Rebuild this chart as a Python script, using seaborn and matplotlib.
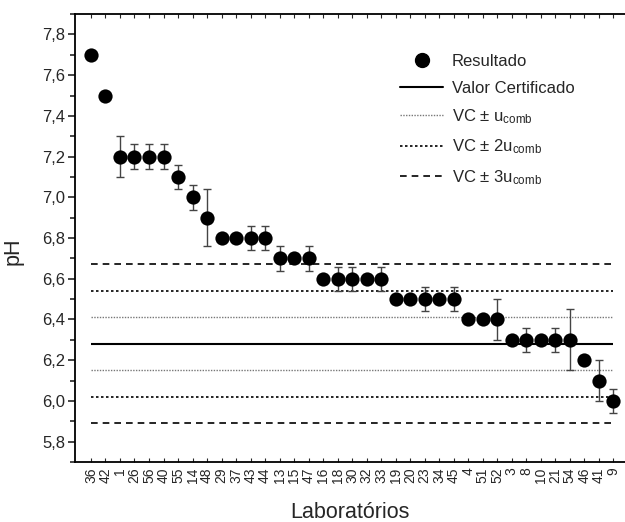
import matplotlib
matplotlib.use("Agg")
import matplotlib.pyplot as plt
from matplotlib.lines import Line2D
from matplotlib.ticker import MultipleLocator, FuncFormatter
import seaborn as sns
import pandas as pd
import numpy as np

labs = ["36", "42", "1", "26", "56", "40", "55", "14", "48", "29", "37", "43", "44",
        "13", "15", "47", "16", "18", "30", "32", "33", "19", "20", "23", "34", "45",
        "4", "51", "52", "3", "8", "10", "21", "54", "46", "41", "9"]
ph = [7.7, 7.5, 7.2, 7.2, 7.2, 7.2, 7.1, 7.0, 6.9, 6.8, 6.8, 6.8, 6.8,
      6.7, 6.7, 6.7, 6.6, 6.6, 6.6, 6.6, 6.6, 6.5, 6.5, 6.5, 6.5, 6.5,
      6.4, 6.4, 6.4, 6.3, 6.3, 6.3, 6.3, 6.3, 6.2, 6.1, 6.0]
err = [0, 0, 0.10, 0.06, 0.06, 0.06, 0.06, 0.06, 0.14, 0, 0, 0.06, 0.06,
       0.06, 0, 0.06, 0, 0.06, 0.06, 0, 0.06, 0, 0, 0.06, 0, 0.06,
       0, 0, 0.10, 0, 0.06, 0, 0.06, 0.15, 0, 0.10, 0.06]
vc = 6.28
u_comb = 0.13

df = pd.DataFrame({"Laboratorio": labs, "pH": ph, "err": err})

sns.set_style("ticks")
plt.rcParams["font.family"] = ["Liberation Sans", "DejaVu Sans"]
plt.rcParams["mathtext.fontset"] = "custom"
plt.rcParams["mathtext.rm"] = "Liberation Sans"
plt.rcParams["mathtext.it"] = "Liberation Sans"

fig = plt.figure(figsize=(6.25, 5.22), dpi=100)
ax = fig.add_axes([0.12, 0.115, 0.88, 0.858])

x = np.arange(len(labs))
x0, x1 = x[0], x[-1]

ax.hlines(vc, x0, x1, colors="black", linewidth=1.5, zorder=1)
for k, (ls, col, lw) in zip([1, 2, 3], [((0, (1, 1)), "#777777", 1.0),
                                        ((0, (1.5, 1.5)), "black", 1.2),
                                        ((0, (4, 3)), "black", 1.2)]):
    ax.hlines([vc + k * u_comb, vc - k * u_comb], x0, x1, colors=col,
              linestyles=[ls], linewidth=lw, zorder=1)

e = df["err"].to_numpy()
mask = e > 0
ax.errorbar(x[mask], df["pH"].to_numpy()[mask], yerr=e[mask], fmt="none",
            ecolor="#444444", elinewidth=1.0, capsize=3, capthick=1.0, zorder=2)
sns.scatterplot(data=df, x="Laboratorio", y="pH", ax=ax, color="black",
                s=105, edgecolor="black", linewidth=0, zorder=3, legend=False)

ax.set_xlim(-1.1, 36.8)
ax.set_ylim(5.7, 7.9)
ax.yaxis.set_major_locator(MultipleLocator(0.2))
ax.yaxis.set_minor_locator(MultipleLocator(0.1))
ax.yaxis.set_major_formatter(FuncFormatter(lambda v, p: f"{v:.1f}".replace(".", ",")))
ax.set_xticks(x)
ax.set_xticklabels(labs, rotation=90)

ax.tick_params(axis="y", which="major", direction="out", length=5, width=1.2,
               labelsize=12, pad=2)
ax.tick_params(axis="y", which="minor", direction="out", length=3.5, width=1.2)
ax.tick_params(axis="x", which="major", direction="in", length=3, width=0.8,
               top=True, labelsize=10, pad=4)

for side in ["left", "bottom", "top"]:
    ax.spines[side].set_linewidth(1.3)
    ax.spines[side].set_color("black")
ax.spines["right"].set_visible(False)

ax.set_xlabel("Laboratórios", fontsize=15.5)
ax.set_ylabel("pH", fontsize=15.5)
ax.xaxis.set_label_coords(0.5, -0.09)
ax.yaxis.set_label_coords(-0.093, 0.471)

handles = [
    Line2D([], [], marker="o", color="black", linestyle="none", markersize=10),
    Line2D([], [], color="black", linewidth=1.5),
    Line2D([], [], color="#777777", linestyle=(0, (1, 1)), linewidth=1.0),
    Line2D([], [], color="black", linestyle=(0, (1.5, 1.5)), linewidth=1.2),
    Line2D([], [], color="black", linestyle=(0, (4, 3)), linewidth=1.2),
]
labels = ["Resultado", "Valor Certificado",
          r"VC $\pm$ u$_{\mathrm{comb}}$",
          r"VC $\pm$ 2u$_{\mathrm{comb}}$",
          r"VC $\pm$ 3u$_{\mathrm{comb}}$"]
ax.legend(handles, labels, loc="upper left", bbox_to_anchor=(0.591, 0.911),
          borderaxespad=0, borderpad=0,
          frameon=False, fontsize=12, handlelength=2.6, handletextpad=0.5,
          labelspacing=0.7)

fig.savefig("out.png", dpi=100)
